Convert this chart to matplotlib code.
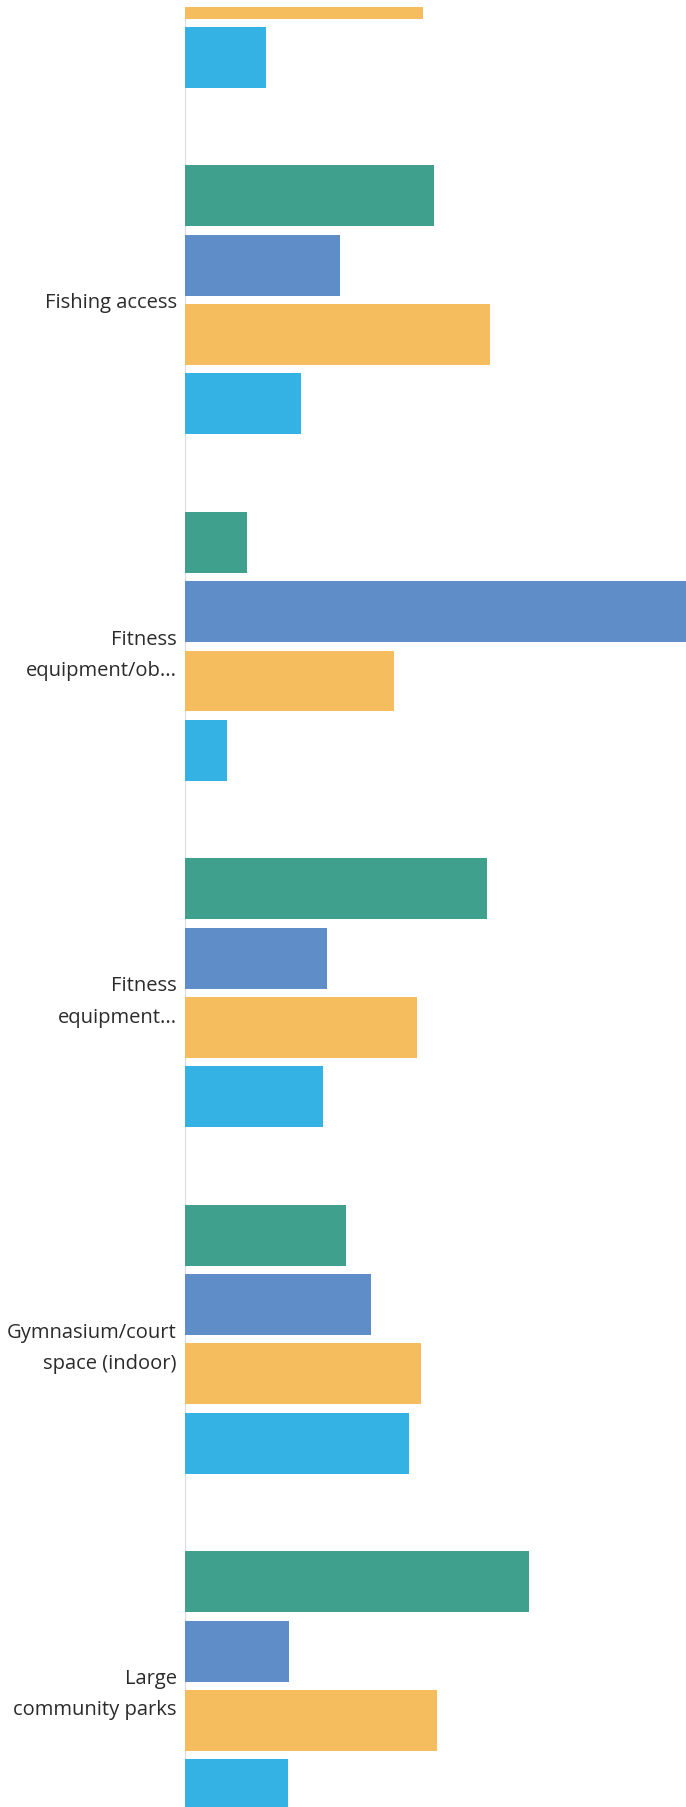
import numpy as np
import matplotlib
matplotlib.use("Agg")
import matplotlib.pyplot as plt

# ---- data (approximate) ----
categories = ["", "Fishing access", "Fitness\nequipment/ob...", "Fitness\nequipment...",
              "Gymnasium/court\nspace (indoor)", "Large\ncommunity parks"]
series_names = ["Series 1", "Series 2", "Series 3", "Series 4"]
series_green = [np.nan, 24.9, 6.2, 30.2, 16.1, 34.4]
series_blue = [np.nan, 15.5, 55.0, 14.2, 18.6, 10.4]
series_yellow = [23.8, 30.5, 20.9, 23.2, 23.6, 25.2]
series_lightblue = [8.1, 11.6, 4.2, 13.8, 22.4, 10.3]

colors = ["#3fa08d", "#5f8dc8", "#f5bd5e", "#33b2e3"]

W, H = 686, 1808
fig = plt.figure(figsize=(W / 100, H / 100), dpi=100)
top_px = 8
ax = fig.add_axes([185 / W, 0, 1 - 185 / W, (H - top_px) / H])

group_step = 5
bar_h = 0.88
all_series = [series_green, series_blue, series_yellow, series_lightblue]
for j, (vals, c, name) in enumerate(zip(all_series, colors, series_names)):
    pos = [i * group_step + j for i in range(len(categories))]
    ax.barh(pos, vals, height=bar_h, color=c, label=name, zorder=2)

ticks = [i * group_step + 1.5 for i in range(len(categories))]
ax.set_yticks(ticks)
ax.set_yticklabels(categories, fontsize=14.5, family=["Open Sans", "DejaVu Sans"],
                   color="#2b2b2b", linespacing=1.75)
ax.tick_params(axis="y", length=0, pad=6)
ax.tick_params(axis="x", bottom=False, labelbottom=False)

ax.set_ylim(28.25, 2.273)
ax.set_xlim(0, 50.1)

for s in ["top", "right", "bottom", "left"]:
    ax.spines[s].set_visible(False)
ax.axvline(0, color="#dcdde9", lw=1.0, zorder=0)

fig.savefig("out.png", dpi=100)
